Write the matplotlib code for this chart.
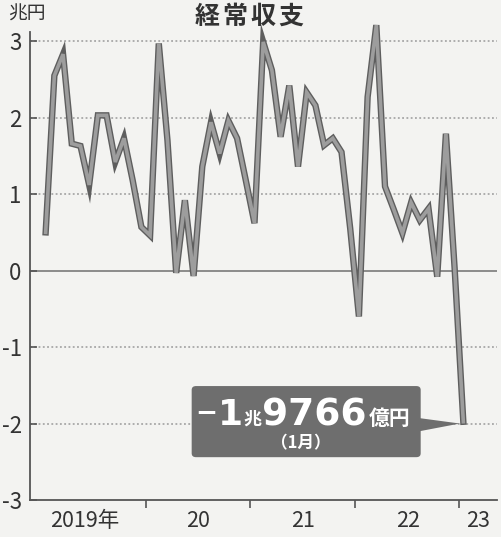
import numpy as np
import matplotlib
matplotlib.use("Agg")
import matplotlib.pyplot as plt
from matplotlib import patheffects as pe
from matplotlib.patches import FancyBboxPatch, Polygon

# ---------------- data ----------------
months = [f"{y}-{m:02d}" for y in range(2019, 2023) for m in range(1, 13)] + ["2023-01"]
values_2019 = [0.50, 2.55, 2.83, 1.66, 1.63, 1.12, 2.03, 2.03, 1.42, 1.73, 1.18, 0.57]
values_2020 = [0.46, 2.97, 1.70, -0.03, 0.92, -0.07, 1.36, 1.94, 1.53, 1.96, 1.73, 1.18]
values_2021 = [0.62, 2.99, 2.62, 1.75, 2.42, 1.36, 2.33, 2.16, 1.64, 1.73, 1.55, 0.55]
values_2022 = [-0.60, 2.27, 3.21, 1.10, 0.80, 0.49, 0.89, 0.66, 0.81, -0.08, 1.79, 0.03]
values_2023 = [-1.9766]
values = values_2019 + values_2020 + values_2021 + values_2022 + values_2023

y_ticks = [-3, -2, -1, 0, 1, 2, 3]
y_ticklabels = ["-3", "-2", "-1", "0", "1", "2", "3"]
year_labels = ["2019年", "20", "21", "22", "23"]
title = "経常収支"
unit = "兆円"

# ---------------- style ----------------
CJK = "Noto Sans CJK JP"
NARROW = [CJK, "DejaVu Sans"]
BG = "#f3f3f1"
INK = "#555555"

fig = plt.figure(figsize=(5.01, 5.37), dpi=100, facecolor=BG)
ax = fig.add_axes([30 / 501, 1 - 500 / 537, 467 / 501, (500 - 32) / 537])
ax.set_facecolor(BG)

x = np.arange(len(values))
ax.set_xlim(-1.80, 51.87)
ax.set_ylim(-3, 3.12)

# grid lines
for t in y_ticks:
    if t == 0:
        ax.axhline(0, color="#7a7a7a", lw=1.2, zorder=1)
    elif t != -3:
        ax.axhline(t, color="#9a9a9a", lw=1.1, ls=(0, (1.2, 1.6)), zorder=1)

# main line
ax.plot(x, values, color="#9d9d9d", lw=2.6, solid_joinstyle="miter", zorder=3,
        clip_on=False,
        path_effects=[pe.Stroke(linewidth=4.6, foreground="#5e5e5e"), pe.Normal()])

# spines
for s in ["top", "right"]:
    ax.spines[s].set_visible(False)
for s in ["left", "bottom"]:
    ax.spines[s].set_color(INK)
    ax.spines[s].set_linewidth(1.3)

ax.set_yticks(y_ticks)
ax.set_yticklabels(y_ticklabels, family=NARROW, fontsize=16, color="#333333")
ax.tick_params(axis="y", direction="in", length=5, width=1.2, color=INK, pad=6)

year_bounds = [11.5, 23.5, 35.5, 47.5]
ax.set_xticks(year_bounds)
ax.set_xticklabels([""] * len(year_bounds))
ax.tick_params(axis="x", direction="out", length=6, width=1.2, color=INK)

label_pos = [4.5, 17.5, 29.6, 41.6, 49.7]
for lp, lab in zip(label_pos, year_labels):
    ax.text(lp, -3.27, lab, ha="center", va="center", family=NARROW,
            fontsize=15.5, color="#333333", clip_on=False)

# title and unit
title_x = [207, 235, 263, 291]
for cx, ch in zip(title_x, title):
    fig.text(cx / 501, 1 - 17 / 537, ch, ha="center", va="center",
             family=CJK, fontsize=18, fontweight="bold", color="#333333")
fig.text(27 / 501, 1 - 14 / 537, unit, ha="center", va="center",
         family=CJK, fontsize=13.5, color="#333333")

# annotation box
box = FancyBboxPatch((16.78, -2.44), 43.1 - 16.78, 0.93,
                     boxstyle="round,pad=0,rounding_size=0.5",
                     mutation_aspect=0.1,
                     facecolor="#6e6e6e", edgecolor="none", zorder=5)
ax.add_patch(box)
ax.add_patch(Polygon([[43.0, -1.93], [43.0, -2.10], [47.6, -2.00]],
                     closed=True, facecolor="#6e6e6e", edgecolor="none", zorder=5))

base = -2.02
ax.text(17.2, base + 0.05, "−", family=["DejaVu Sans"], fontweight="bold",
        fontsize=19, color="white", va="baseline", ha="left", zorder=6)
ax.text(19.8, base, "1", family=["DejaVu Sans"], fontweight="bold",
        fontsize=26, color="white", va="baseline", ha="left", zorder=6)
ax.text(22.75, base, "兆", family=CJK, fontweight="bold",
        fontsize=13, color="white", va="baseline", ha="left", zorder=6)
ax.text(24.9, base, "9766", family=["DejaVu Sans"], fontweight="bold",
        fontsize=27, color="white", va="baseline", ha="left", zorder=6)
ax.text(37.1, base, "億円", family=CJK, fontweight="bold",
        fontsize=15, color="white", va="baseline", ha="left", zorder=6)
ax.text(29.3, -2.26, "（1月）", family=CJK, fontweight="bold",
        fontsize=12, color="white", va="center", ha="center", zorder=6)

fig.savefig("out.png", dpi=100, facecolor=BG)
